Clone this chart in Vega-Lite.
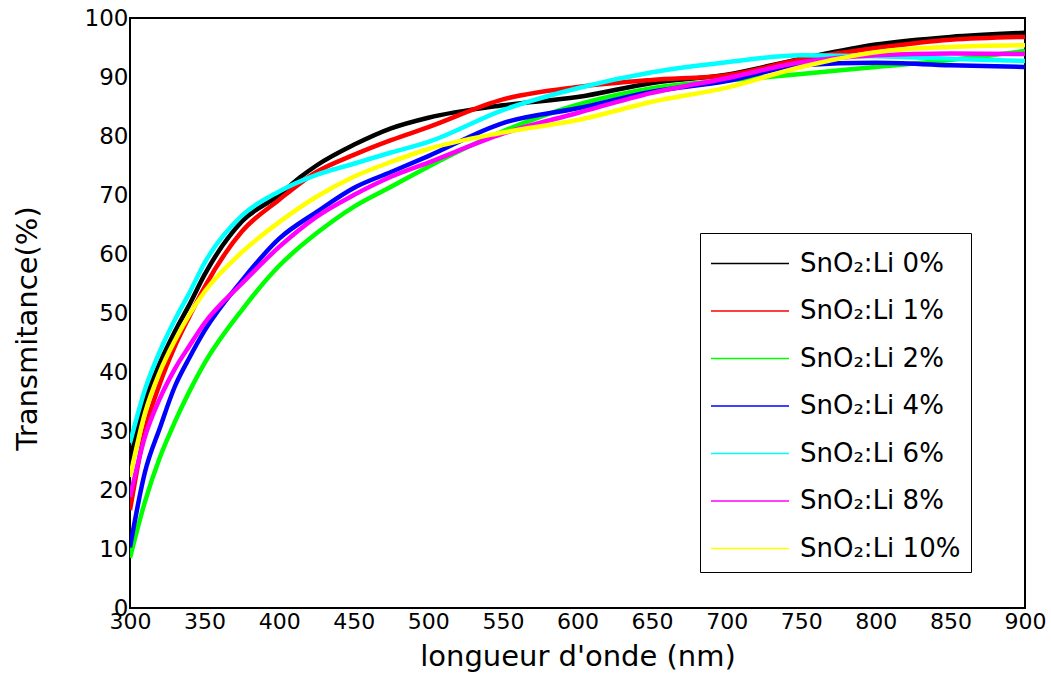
{
  "$schema": "https://vega.github.io/schema/vega-lite/v6.json",
  "width": 895,
  "height": 590,
  "autosize": {"type": "none"},
  "padding": {"left": 130, "top": 18, "right": 26, "bottom": 74},
  "background": "white",
  "config": {
    "view": {"stroke": "black", "strokeWidth": 2},
    "font": "DejaVu Sans"
  },
  "datasets": {
    "curves": [
      {"s": "SnO₂:Li 0%", "wl": 300, "T": 25}, {"s": "SnO₂:Li 0%", "wl": 310, "T": 35}, {"s": "SnO₂:Li 0%", "wl": 320, "T": 41.5}, {"s": "SnO₂:Li 0%", "wl": 330, "T": 46.8}, {"s": "SnO₂:Li 0%", "wl": 340, "T": 51.5}, {"s": "SnO₂:Li 0%", "wl": 350, "T": 56.5}, {"s": "SnO₂:Li 0%", "wl": 375, "T": 65.5}, {"s": "SnO₂:Li 0%", "wl": 400, "T": 70}, {"s": "SnO₂:Li 0%", "wl": 414, "T": 73}, {"s": "SnO₂:Li 0%", "wl": 425, "T": 75}, {"s": "SnO₂:Li 0%", "wl": 450, "T": 78.5}, {"s": "SnO₂:Li 0%", "wl": 475, "T": 81.3}, {"s": "SnO₂:Li 0%", "wl": 500, "T": 83.1}, {"s": "SnO₂:Li 0%", "wl": 550, "T": 85.2}, {"s": "SnO₂:Li 0%", "wl": 600, "T": 86.6}, {"s": "SnO₂:Li 0%", "wl": 650, "T": 89}, {"s": "SnO₂:Li 0%", "wl": 700, "T": 90.4}, {"s": "SnO₂:Li 0%", "wl": 750, "T": 93.1}, {"s": "SnO₂:Li 0%", "wl": 800, "T": 95.5}, {"s": "SnO₂:Li 0%", "wl": 850, "T": 96.8}, {"s": "SnO₂:Li 0%", "wl": 900, "T": 97.5},
      {"s": "SnO₂:Li 1%", "wl": 300, "T": 16.6}, {"s": "SnO₂:Li 1%", "wl": 310, "T": 30}, {"s": "SnO₂:Li 1%", "wl": 320, "T": 38}, {"s": "SnO₂:Li 1%", "wl": 330, "T": 44.3}, {"s": "SnO₂:Li 1%", "wl": 340, "T": 49.5}, {"s": "SnO₂:Li 1%", "wl": 350, "T": 54.4}, {"s": "SnO₂:Li 1%", "wl": 375, "T": 63.8}, {"s": "SnO₂:Li 1%", "wl": 400, "T": 69.2}, {"s": "SnO₂:Li 1%", "wl": 425, "T": 73.9}, {"s": "SnO₂:Li 1%", "wl": 450, "T": 76.8}, {"s": "SnO₂:Li 1%", "wl": 475, "T": 79.3}, {"s": "SnO₂:Li 1%", "wl": 500, "T": 81.5}, {"s": "SnO₂:Li 1%", "wl": 550, "T": 86.2}, {"s": "SnO₂:Li 1%", "wl": 600, "T": 88.3}, {"s": "SnO₂:Li 1%", "wl": 650, "T": 89.5}, {"s": "SnO₂:Li 1%", "wl": 700, "T": 90.3}, {"s": "SnO₂:Li 1%", "wl": 750, "T": 93}, {"s": "SnO₂:Li 1%", "wl": 800, "T": 94.9}, {"s": "SnO₂:Li 1%", "wl": 850, "T": 96.3}, {"s": "SnO₂:Li 1%", "wl": 900, "T": 96.8},
      {"s": "SnO₂:Li 2%", "wl": 300, "T": 8.5}, {"s": "SnO₂:Li 2%", "wl": 310, "T": 18}, {"s": "SnO₂:Li 2%", "wl": 320, "T": 25.5}, {"s": "SnO₂:Li 2%", "wl": 330, "T": 31.5}, {"s": "SnO₂:Li 2%", "wl": 340, "T": 36.8}, {"s": "SnO₂:Li 2%", "wl": 350, "T": 41.5}, {"s": "SnO₂:Li 2%", "wl": 375, "T": 50.5}, {"s": "SnO₂:Li 2%", "wl": 400, "T": 58}, {"s": "SnO₂:Li 2%", "wl": 425, "T": 63.5}, {"s": "SnO₂:Li 2%", "wl": 450, "T": 68}, {"s": "SnO₂:Li 2%", "wl": 475, "T": 71.4}, {"s": "SnO₂:Li 2%", "wl": 500, "T": 74.8}, {"s": "SnO₂:Li 2%", "wl": 550, "T": 80.8}, {"s": "SnO₂:Li 2%", "wl": 600, "T": 85.3}, {"s": "SnO₂:Li 2%", "wl": 650, "T": 88.1}, {"s": "SnO₂:Li 2%", "wl": 700, "T": 89.4}, {"s": "SnO₂:Li 2%", "wl": 750, "T": 90.5}, {"s": "SnO₂:Li 2%", "wl": 800, "T": 91.7}, {"s": "SnO₂:Li 2%", "wl": 850, "T": 92.9}, {"s": "SnO₂:Li 2%", "wl": 900, "T": 94.4},
      {"s": "SnO₂:Li 4%", "wl": 300, "T": 10.3}, {"s": "SnO₂:Li 4%", "wl": 310, "T": 23}, {"s": "SnO₂:Li 4%", "wl": 320, "T": 30.5}, {"s": "SnO₂:Li 4%", "wl": 330, "T": 37.5}, {"s": "SnO₂:Li 4%", "wl": 340, "T": 42.5}, {"s": "SnO₂:Li 4%", "wl": 350, "T": 47}, {"s": "SnO₂:Li 4%", "wl": 375, "T": 55.5}, {"s": "SnO₂:Li 4%", "wl": 400, "T": 62.6}, {"s": "SnO₂:Li 4%", "wl": 425, "T": 67.1}, {"s": "SnO₂:Li 4%", "wl": 450, "T": 71.2}, {"s": "SnO₂:Li 4%", "wl": 475, "T": 73.9}, {"s": "SnO₂:Li 4%", "wl": 500, "T": 76.6}, {"s": "SnO₂:Li 4%", "wl": 550, "T": 82.2}, {"s": "SnO₂:Li 4%", "wl": 600, "T": 84.7}, {"s": "SnO₂:Li 4%", "wl": 650, "T": 87.5}, {"s": "SnO₂:Li 4%", "wl": 700, "T": 89.3}, {"s": "SnO₂:Li 4%", "wl": 750, "T": 92}, {"s": "SnO₂:Li 4%", "wl": 800, "T": 92.4}, {"s": "SnO₂:Li 4%", "wl": 850, "T": 92}, {"s": "SnO₂:Li 4%", "wl": 900, "T": 91.7},
      {"s": "SnO₂:Li 6%", "wl": 300, "T": 28}, {"s": "SnO₂:Li 6%", "wl": 310, "T": 37}, {"s": "SnO₂:Li 6%", "wl": 320, "T": 43.5}, {"s": "SnO₂:Li 6%", "wl": 330, "T": 48.8}, {"s": "SnO₂:Li 6%", "wl": 340, "T": 53.5}, {"s": "SnO₂:Li 6%", "wl": 350, "T": 58.5}, {"s": "SnO₂:Li 6%", "wl": 375, "T": 66.5}, {"s": "SnO₂:Li 6%", "wl": 400, "T": 70.6}, {"s": "SnO₂:Li 6%", "wl": 425, "T": 73.4}, {"s": "SnO₂:Li 6%", "wl": 450, "T": 75.3}, {"s": "SnO₂:Li 6%", "wl": 475, "T": 77.2}, {"s": "SnO₂:Li 6%", "wl": 500, "T": 79}, {"s": "SnO₂:Li 6%", "wl": 550, "T": 84.4}, {"s": "SnO₂:Li 6%", "wl": 600, "T": 88.1}, {"s": "SnO₂:Li 6%", "wl": 650, "T": 90.8}, {"s": "SnO₂:Li 6%", "wl": 700, "T": 92.5}, {"s": "SnO₂:Li 6%", "wl": 750, "T": 93.7}, {"s": "SnO₂:Li 6%", "wl": 800, "T": 93.5}, {"s": "SnO₂:Li 6%", "wl": 850, "T": 93.1}, {"s": "SnO₂:Li 6%", "wl": 900, "T": 92.7},
      {"s": "SnO₂:Li 8%", "wl": 300, "T": 18.8}, {"s": "SnO₂:Li 8%", "wl": 310, "T": 29}, {"s": "SnO₂:Li 8%", "wl": 320, "T": 35.5}, {"s": "SnO₂:Li 8%", "wl": 330, "T": 40.5}, {"s": "SnO₂:Li 8%", "wl": 340, "T": 44.5}, {"s": "SnO₂:Li 8%", "wl": 350, "T": 48.3}, {"s": "SnO₂:Li 8%", "wl": 375, "T": 55}, {"s": "SnO₂:Li 8%", "wl": 400, "T": 61.2}, {"s": "SnO₂:Li 8%", "wl": 425, "T": 66.3}, {"s": "SnO₂:Li 8%", "wl": 450, "T": 70}, {"s": "SnO₂:Li 8%", "wl": 475, "T": 73.1}, {"s": "SnO₂:Li 8%", "wl": 500, "T": 75.5}, {"s": "SnO₂:Li 8%", "wl": 550, "T": 80.4}, {"s": "SnO₂:Li 8%", "wl": 600, "T": 83.9}, {"s": "SnO₂:Li 8%", "wl": 650, "T": 87.3}, {"s": "SnO₂:Li 8%", "wl": 700, "T": 89.8}, {"s": "SnO₂:Li 8%", "wl": 750, "T": 92.5}, {"s": "SnO₂:Li 8%", "wl": 800, "T": 93.7}, {"s": "SnO₂:Li 8%", "wl": 850, "T": 94}, {"s": "SnO₂:Li 8%", "wl": 900, "T": 93.9},
      {"s": "SnO₂:Li 10%", "wl": 300, "T": 22.2}, {"s": "SnO₂:Li 10%", "wl": 310, "T": 33}, {"s": "SnO₂:Li 10%", "wl": 320, "T": 40}, {"s": "SnO₂:Li 10%", "wl": 330, "T": 45.3}, {"s": "SnO₂:Li 10%", "wl": 340, "T": 49.8}, {"s": "SnO₂:Li 10%", "wl": 350, "T": 53.6}, {"s": "SnO₂:Li 10%", "wl": 375, "T": 60.3}, {"s": "SnO₂:Li 10%", "wl": 400, "T": 65.4}, {"s": "SnO₂:Li 10%", "wl": 425, "T": 69.7}, {"s": "SnO₂:Li 10%", "wl": 450, "T": 73.1}, {"s": "SnO₂:Li 10%", "wl": 475, "T": 75.6}, {"s": "SnO₂:Li 10%", "wl": 500, "T": 77.8}, {"s": "SnO₂:Li 10%", "wl": 550, "T": 80.6}, {"s": "SnO₂:Li 10%", "wl": 600, "T": 82.7}, {"s": "SnO₂:Li 10%", "wl": 650, "T": 85.8}, {"s": "SnO₂:Li 10%", "wl": 700, "T": 88.2}, {"s": "SnO₂:Li 10%", "wl": 750, "T": 91.7}, {"s": "SnO₂:Li 10%", "wl": 800, "T": 94.2}, {"s": "SnO₂:Li 10%", "wl": 850, "T": 95.1}, {"s": "SnO₂:Li 10%", "wl": 900, "T": 95.4}
    ]
  },
  "data": {"name": "curves"},
  "mark": {"type": "line", "interpolate": "monotone", "strokeWidth": 4.5, "clip": true},
  "encoding": {
    "x": {
      "field": "wl", "type": "quantitative",
      "scale": {"domain": [300, 900], "nice": false, "zero": false},
      "axis": {
        "title": "longueur d'onde (nm)", "values": [300, 350, 400, 450, 500, 550, 600, 650, 700, 750, 800, 850, 900],
        "grid": false, "ticks": false, "domain": false,
        "labelFontSize": 22, "labelColor": "black", "labelPadding": 3, "labelFlush": false,
        "titleFontSize": 29, "titleFontWeight": "normal", "titleColor": "black", "titlePadding": 10
      }
    },
    "y": {
      "field": "T", "type": "quantitative",
      "scale": {"domain": [0, 100], "nice": false},
      "axis": {
        "title": "Transmitance(%)", "values": [0, 10, 20, 30, 40, 50, 60, 70, 80, 90, 100],
        "grid": false, "ticks": false, "domain": false,
        "labelFontSize": 23, "labelColor": "black", "labelPadding": 2, "labelFlush": false,
        "titleFontSize": 29, "titleFontWeight": "normal", "titleColor": "black", "titlePadding": 42, "titleY": 310
      }
    },
    "color": {
      "field": "s", "type": "nominal",
      "sort": ["SnO₂:Li 0%", "SnO₂:Li 1%", "SnO₂:Li 2%", "SnO₂:Li 4%", "SnO₂:Li 6%", "SnO₂:Li 8%", "SnO₂:Li 10%"],
      "scale": {
        "domain": ["SnO₂:Li 0%", "SnO₂:Li 1%", "SnO₂:Li 2%", "SnO₂:Li 4%", "SnO₂:Li 6%", "SnO₂:Li 8%", "SnO₂:Li 10%"],
        "range": ["#000000", "#ff0000", "#00ff00", "#0000ff", "#00ffff", "#ff00ff", "#ffff00"]
      },
      "legend": {
        "title": null, "orient": "none", "legendX": 570, "legendY": 215,
        "symbolType": "M-1,0H3", "symbolSize": 1521, "symbolStrokeWidth": 1.5,
        "labelFontSize": 26, "labelColor": "black", "labelOffset": 49, "labelLimit": 400,
        "rowPadding": 13.5, "padding": 10,
        "strokeColor": "black", "fillColor": "white", "cornerRadius": 0
      }
    }
  }
}
